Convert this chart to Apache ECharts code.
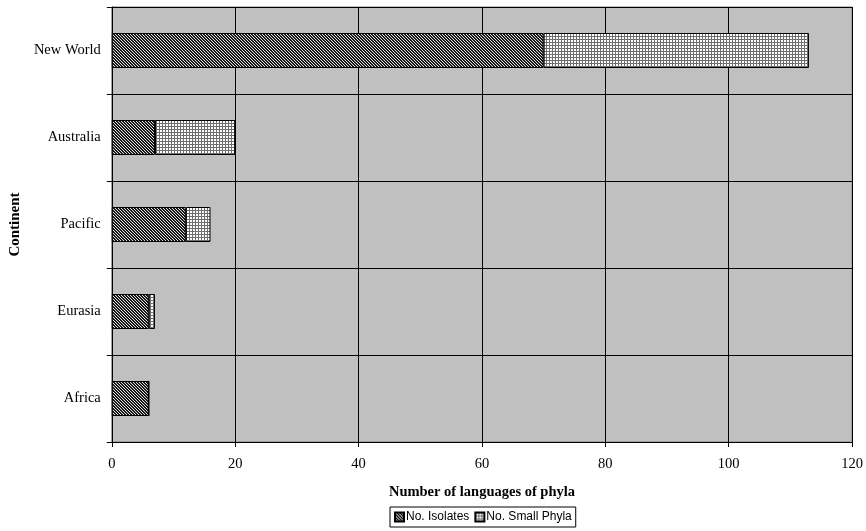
<!DOCTYPE html>
<html>
<head>
<meta charset="utf-8">
<script src="https://cdn.jsdelivr.net/npm/echarts@6/dist/echarts.min.js"></script>
<style>html,body{margin:0;padding:0;background:#fff}#c{width:866px;height:531px}</style>
</head>
<body>
<div id="c"></div>
<script>
const categories = ['Africa', 'Eurasia', 'Pacific', 'Australia', 'New World'];
const isolates = [6, 6, 12, 7, 70];
const smallPhyla = [0, 1, 4, 13, 43];
const xTicks = { min: 0, max: 120, interval: 20 };

function hatchPattern() {
  const c = document.createElement('canvas');
  c.width = 3; c.height = 3;
  const g = c.getContext('2d');
  g.fillStyle = '#1a1a1a'; g.fillRect(0, 0, 3, 3);
  for (let y = 0; y < 3; y++) {
    g.fillStyle = '#e0e0e0'; g.fillRect(y, y, 1, 1);
  }
  return c;
}
function gridPattern() {
  const c = document.createElement('canvas');
  c.width = 3; c.height = 3;
  const g = c.getContext('2d');
  g.fillStyle = '#fff'; g.fillRect(0, 0, 3, 3);
  g.fillStyle = '#6e6e6e';
  g.fillRect(0, 0, 3, 1);
  g.fillRect(0, 0, 1, 3);
  return c;
}

const serif = '"Liberation Serif", "Times New Roman", serif';
const chart = echarts.init(document.getElementById('c'), null, { renderer: 'canvas' });
chart.setOption({
  animation: false,
  backgroundColor: '#fff',
  grid: {
    left: 111, right: 12, top: 7, bottom: 89,
    show: true, backgroundColor: '#c0c0c0', borderColor: '#808080', borderWidth: 1
  },
  legend: {
    bottom: 4, left: 390,
    data: ['No. Isolates', 'No. Small Phyla'],
    borderColor: '#000', borderWidth: 1, padding: [4, 4, 4, 4],
    itemWidth: 9, itemHeight: 9, itemGap: 5,
    icon: 'rect',
    textStyle: { fontFamily: '"Liberation Sans", Arial, sans-serif', fontSize: 12, color: '#000', padding: [0, 0, 0, -3] }
  },
  xAxis: {
    type: 'value', min: xTicks.min, max: xTicks.max, interval: xTicks.interval,
    name: 'Number of languages of phyla', nameLocation: 'middle', nameGap: 43,
    nameTextStyle: { fontFamily: serif, fontWeight: 'bold', fontSize: 14.5, color: '#000' },
    axisLine: { show: true, lineStyle: { color: '#000', width: 1 } },
    axisTick: { show: true, length: 5, lineStyle: { color: '#000' } },
    axisLabel: { fontFamily: serif, fontSize: 14.5, color: '#000', margin: 15 },
    splitLine: { show: true, lineStyle: { color: '#000', width: 1 } }
  },
  yAxis: {
    type: 'category', data: categories,
    name: 'Continent', nameLocation: 'middle', nameGap: 86, nameRotate: 90,
    nameTextStyle: { fontFamily: serif, fontWeight: 'bold', fontSize: 15, color: '#000' },
    axisLine: { show: true, lineStyle: { color: '#000', width: 1 } },
    axisTick: { show: true, length: 5, lineStyle: { color: '#000' } },
    axisLabel: { fontFamily: serif, fontSize: 14.5, color: '#000', margin: 11 },
    splitLine: { show: true, lineStyle: { color: '#000', width: 1 } }
  },
  series: [
    {
      name: 'No. Isolates', type: 'bar', stack: 'total', data: isolates, barWidth: 35,
      itemStyle: { color: { image: hatchPattern(), repeat: 'repeat' }, borderColor: '#000', borderWidth: 1 }
    },
    {
      name: 'No. Small Phyla', type: 'bar', stack: 'total', data: smallPhyla, barWidth: 35,
      itemStyle: { color: { image: gridPattern(), repeat: 'repeat' }, borderColor: '#000', borderWidth: 1 }
    }
  ]
});
</script>
</body>
</html>
